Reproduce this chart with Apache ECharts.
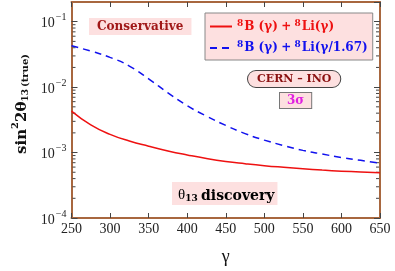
<!DOCTYPE html>
<html><head><meta charset="utf-8">
<script src="https://cdn.jsdelivr.net/npm/echarts@6/dist/echarts.min.js"></script>
<style>html,body{margin:0;padding:0;background:#fff}#c{width:395px;height:271px}</style>
</head><body><div id="c"></div>
<script>
const gammaValues = [250,275,300,325,350,375,400,425,450,475,500,525,550,575,600,625,650];
const redSeries = [4.3e-3,2.65e-3,1.9e-3,1.5e-3,1.25e-3,1.06e-3,9.2e-4,8.1e-4,7.3e-4,6.75e-4,6.3e-4,5.95e-4,5.65e-4,5.4e-4,5.2e-4,5.05e-4,4.93e-4];
const blueSeries = [0.043,0.0355,0.0285,0.021,0.0134,0.0082,0.0052,0.0036,0.0026,0.00195,0.00155,0.00128,0.00108,0.00095,0.00084,0.00076,0.00069];
const xTicks = [250,300,350,400,450,500,550,600,650];
const yDecades = [1e-4,1e-3,1e-2,1e-1];
const seriesNames = ['red','blue'];

const frame = '#a8673f';
const tickCol = '#444';
const serif = '"Liberation Serif","DejaVu Serif",serif';
const bserif = '"DejaVu Serif",serif';

const minorTicks = [];
for (let e = -4; e <= -2; e++) for (let m = 2; m <= 9; m++) minorTicks.push(m * Math.pow(10, e));

const chart = echarts.init(document.getElementById('c'), null, {renderer: 'canvas'});
const supRich = {
  b: {fontFamily: serif, fontSize: 14, color: '#222', verticalAlign: 'bottom', lineHeight: 18},
  s: {fontFamily: serif, fontSize: 10, color: '#222', verticalAlign: 'top', lineHeight: 18, padding: [0,0,0,1]}
};
const legendRich = {
  sup: {fontSize: 9, fontWeight: 'bold', fontFamily: bserif, verticalAlign: 'top', padding: [0,1,6,0]},
  n: {fontSize: 12, fontWeight: 'bold', fontFamily: bserif},
  p: {fontSize: 12, fontWeight: 'bold', fontFamily: bserif}
};
function legendLabel(name) {
  if (name === 'red') return '{sup|8}{n|B}{p| (γ)} {n|+} {sup|8}{n|Li}{p|(γ)}';
  return '{sup|8}{n|B}{p| (γ)} {n|+} {sup|8}{n|Li}{p|(γ/}{n|1.67}{p|)}';
}
const option = {
  animation: false,
  backgroundColor: '#fff',
  grid: {left: 71.5, right: 15, top: 2, bottom: 47.5, show: false},
  xAxis: [{
    type: 'value', min: 250, max: 650, interval: 50, position: 'bottom',
    axisLine: {show: true, onZero: false, lineStyle: {color: frame, width: 2}},
    axisTick: {show: true, inside: true, length: 5, lineStyle: {color: tickCol, width: 1}},
    axisLabel: {fontFamily: serif, fontSize: 14, color: '#222', margin: 4},
    splitLine: {show: false},
    name: 'γ', nameLocation: 'middle', nameGap: 30,
    nameTextStyle: {fontFamily: serif, fontSize: 18, color: '#111'}
  }, {
    type: 'value', min: 250, max: 650, interval: 50, position: 'top',
    axisLine: {show: true, onZero: false, lineStyle: {color: frame, width: 2}},
    axisTick: {show: true, inside: true, length: 5, lineStyle: {color: tickCol, width: 1}},
    axisLabel: {show: false}, splitLine: {show: false}
  }],
  yAxis: [{
    type: 'log', logBase: 10, min: 1e-4, max: 0.2, position: 'left',
    axisLine: {show: true, onZero: false, lineStyle: {color: frame, width: 2}},
    axisTick: {show: true, inside: true, length: 6, lineStyle: {color: tickCol, width: 1}},
    axisLabel: {
      showMaxLabel: false, margin: 5, rich: supRich,
      formatter: function (v) {
        const e = Math.log10(v);
        if (Math.abs(e - Math.round(e)) > 1e-6) return '';
        return '{b|10}{s|−' + Math.abs(Math.round(e)) + '}';
      }
    },
    splitLine: {show: false},
    name: '{pad|}{a|sin}{sp|2}{a|2θ}{sb|13}{t|(true)}',
    nameLocation: 'middle', nameGap: 40, nameRotate: 90,
    nameTextStyle: {
      rich: {
        pad: {width: 12, fontSize: 10},
        a: {fontFamily: bserif, fontSize: 15, fontWeight: 'bold', color: '#111', verticalAlign: 'bottom', lineHeight: 20},
        sp: {fontFamily: bserif, fontSize: 10, fontWeight: 'bold', color: '#111', verticalAlign: 'top', lineHeight: 20},
        sb: {fontFamily: bserif, fontSize: 9, fontWeight: 'bold', color: '#111', verticalAlign: 'bottom', lineHeight: 16},
        t: {fontFamily: bserif, fontSize: 10, fontWeight: 'bold', color: '#111', verticalAlign: 'bottom', lineHeight: 20, padding: [0,0,0,2]}
      }
    }
  }, {
    type: 'log', logBase: 10, min: 1e-4, max: 0.2, position: 'right',
    axisLine: {show: true, onZero: false, lineStyle: {color: frame, width: 2}},
    axisTick: {show: true, inside: true, length: 6, lineStyle: {color: tickCol, width: 1}},
    axisLabel: {show: false}, splitLine: {show: false}
  }],
  legend: {
    orient: 'vertical', left: 205, top: 13,
    backgroundColor: '#fde0e0', borderColor: '#888', borderWidth: 1,
    padding: [6, 5, 6, 4], itemWidth: 22, itemHeight: 14, itemGap: 8, itemStyle: {opacity: 0},
    data: [
      {name: 'red', textStyle: {color: '#ee1111', rich: legendRich}},
      {name: 'blue', textStyle: {color: '#1111ee', rich: legendRich}}
    ],
    formatter: legendLabel,
    textStyle: {rich: legendRich}
  },
  graphic: [
    {type: 'text', left: 89, top: 18, z: 5, style: {text: 'Conservative', fontFamily: bserif, fontWeight: 'bold', fontSize: 12, fill: '#a01818', backgroundColor: '#fde0e0', padding: [3, 8, 2, 8]}},
    {type: 'text', left: 247, top: 70, z: 5, style: {text: 'CERN – INO', fontFamily: bserif, fontWeight: 'bold', fontSize: 11, fill: '#8a1010', backgroundColor: '#fde0e0', borderColor: '#444', borderWidth: 1, borderRadius: 9, padding: [3, 9, 2, 9]}},
    {type: 'text', left: 279, top: 92, z: 5, style: {text: '3σ', fontFamily: bserif, fontWeight: 'bold', fontSize: 12, fill: '#e020e0', backgroundColor: '#fde0e0', borderColor: '#777', borderWidth: 1, padding: [2, 7, 1, 7]}},
    {type: 'text', left: 172, top: 182, z: 5, style: {
      text: '{t|θ}{s|13} {d|discovery}', backgroundColor: '#fde0e0', padding: [3, 3, 2, 6],
      rich: {
        t: {fontFamily: serif, fontSize: 15, color: '#902090', verticalAlign: 'bottom', lineHeight: 18},
        s: {fontFamily: bserif, fontSize: 9, fontWeight: 'bold', color: '#902090', verticalAlign: 'bottom', lineHeight: 14},
        d: {fontFamily: bserif, fontSize: 14, fontWeight: 'bold', color: '#902090', verticalAlign: 'bottom', lineHeight: 18}
      }
    }}
  ],
  series: [
    {name: 'red', type: 'line', smooth: true, showSymbol: false, symbol: 'none',
     data: gammaValues.map((g, i) => [g, redSeries[i]]),
     lineStyle: {color: '#ee1111', width: 1.5}, itemStyle: {color: '#ee1111'}},
    {name: 'blue', type: 'line', smooth: true, showSymbol: false, symbol: 'none',
     data: gammaValues.map((g, i) => [g, blueSeries[i]]),
     lineStyle: {color: '#1111ee', width: 1.5, type: [7, 5]}, itemStyle: {color: '#1111ee'}},
    {name: 'minor', type: 'custom', silent: true, z: 1,
     data: minorTicks.map(v => [250, v]),
     renderItem: function (params, api) {
       const v = api.value(1);
       const pl = api.coord([250, v]);
       const pr = api.coord([650, v]);
       return {type: 'group', children: [
         {type: 'line', shape: {x1: pl[0] + 1, y1: pl[1], x2: pl[0] + 4, y2: pl[1]}, style: {stroke: tickCol, lineWidth: 1}},
         {type: 'line', shape: {x1: pr[0] - 1, y1: pr[1], x2: pr[0] - 4, y2: pr[1]}, style: {stroke: tickCol, lineWidth: 1}}
       ]};
     }}
  ]
};
chart.setOption(option);
</script>
</body></html>
